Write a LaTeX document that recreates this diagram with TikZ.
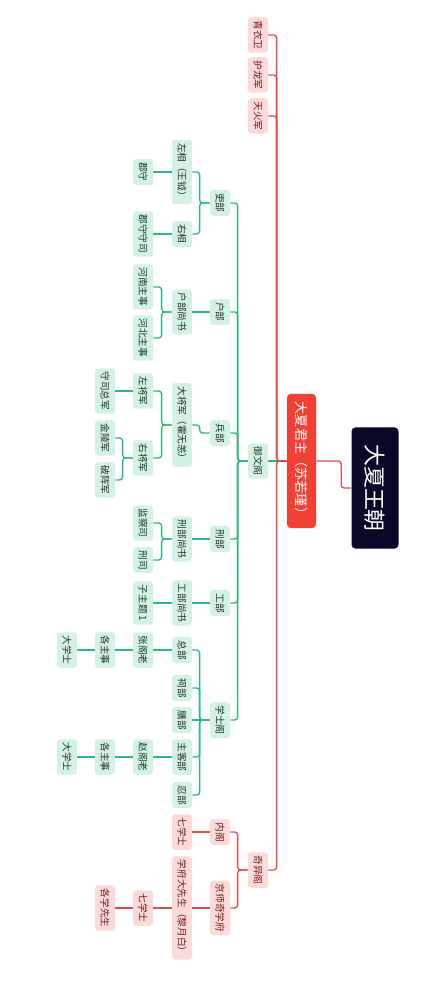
\documentclass[tikz,border=0pt]{standalone}
\usepackage{fontspec}
\setmainfont{Noto Sans CJK SC}
\definecolor{mintfill}{RGB}{212,242,227}
\definecolor{mintline}{RGB}{43,185,125}
\definecolor{minttext}{RGB}{30,55,45}
\definecolor{pinkfill}{RGB}{252,218,218}
\definecolor{pinkline}{RGB}{222,78,74}
\definecolor{pinktext}{RGB}{110,30,30}
\definecolor{kingred}{RGB}{242,64,52}
\definecolor{rootnavy}{RGB}{8,8,40}

\begin{document}
\begin{tikzpicture}[x=0.02cm,y=-0.02cm,
  topic/.style={rotate=-90,rounded corners=0.06cm,minimum height=0.4cm,
    inner xsep=1.85pt,inner ysep=0pt,font=\fontsize{5.5}{6}\selectfont},
  gnode/.style={topic,fill=mintfill,text=minttext},
  rnode/.style={topic,fill=pinkfill,text=pinktext},
  glink/.style={draw=mintline,line width=0.75pt,rounded corners=0.06cm},
  rlink/.style={draw=pinkline,line width=0.75pt,rounded corners=0.06cm},
]
\useasboundingbox (0,0) rectangle (442,999);
\fill[white] (0,0) rectangle (442,999);

% centre and sovereign
\node[rotate=-90,fill=rootnavy,text=white,rounded corners=0.08cm,minimum height=0.94cm,
  inner xsep=9.5pt,inner ysep=0pt,font=\fontsize{12.5}{14}\selectfont] (root) at (375,488) {大夏王朝};
\node[rotate=-90,fill=kingred,text=white,rounded corners=0.08cm,minimum height=0.58cm,
  inner xsep=4.5pt,inner ysep=0pt,font=\fontsize{7.5}{9}\selectfont] (jun) at (301.5,461) {大夏君主（苏若瑾）};

% guards
\node[rnode] (qyw) at (258,35) {青衣卫};
\node[rnode] (hlj) at (258,75) {护龙军};
\node[rnode] (thj) at (258,116) {天火军};

% 御文阁
\node[gnode] (ywg) at (258,461) {御文阁};
\node[gnode] (lib) at (220,203) {吏部};
\node[gnode] (hub) at (220,312) {户部};
\node[gnode] (bing) at (220,433) {兵部};
\node[gnode] (xing) at (220,539) {刑部};
\node[gnode] (gong) at (220,603) {工部};
\node[gnode] (xsg) at (220,720) {学士阁};

\node[gnode] (zx) at (182,172) {左相（王钺）};
\node[gnode] (yx) at (182,234) {右相};
\node[gnode] (js1) at (143,172) {郡守};
\node[gnode] (js2) at (143,234) {郡守守司};

\node[gnode] (hbss) at (182,312) {户部尚书};
\node[gnode] (hn) at (143,287) {河南主事};
\node[gnode] (hb) at (143,338) {河北主事};

\node[gnode] (djj) at (182,425) {大将军（霍无恙）};
\node[gnode] (zjj) at (143,391) {左将军};
\node[gnode] (yjj) at (143,458) {右将军};
\node[gnode] (sszj) at (105,391) {守司总军};
\node[gnode] (jlj) at (105,438) {金陵军};
\node[gnode] (pzj) at (105,480) {破阵军};

\node[gnode] (xbss) at (182,539) {刑部尚书};
\node[gnode] (jcs) at (143,523) {监察司};
\node[gnode] (xs) at (143,560) {刑司};

\node[gnode] (gbss) at (182,603) {工部尚书};
\node[gnode] (zzt) at (143,603) {子主题 1};

\node[gnode] (zb) at (182,650) {总部};
\node[gnode] (cb) at (182,688) {祠部};
\node[gnode] (sb) at (182,720) {膳部};
\node[gnode] (zkb) at (182,757) {主客部};
\node[gnode] (rb) at (182,795) {忍部};
\node[gnode] (zgl) at (143,650) {张阁老};
\node[gnode] (gzs1) at (105,650) {各主事};
\node[gnode] (dxs1) at (67,650) {大学士};
\node[gnode] (zhgl) at (143,757) {赵阁老};
\node[gnode] (gzs2) at (105,757) {各主事};
\node[gnode] (dxs2) at (67,757) {大学士};

% 奇异阁
\node[rnode] (qyg) at (258,870) {奇异阁};
\node[rnode] (ng) at (220,832) {内阁};
\node[rnode] (jsxf) at (220,908) {京师奇学府};
\node[rnode] (qxs1) at (182,832) {七学士};
\node[rnode] (xfdxs) at (182,908) {学府大先生（黎月白）};
\node[rnode] (qxs2) at (143,908) {七学士};
\node[rnode] (gxxs) at (105,908) {各学先生};

% connectors: elbows
\foreach \p/\c in {ywg/lib,ywg/hub,ywg/bing,ywg/xing,ywg/gong,ywg/xsg,
  lib/zx,lib/yx,hbss/hn,hbss/hb,
  bing/djj,djj/zjj,djj/yjj,yjj/jlj,yjj/pzj,
  xbss/jcs,xbss/xs,
  xsg/zb,xsg/cb,xsg/zkb,xsg/rb}
  \draw[glink] (\p.south) -- ++(-10,0) |- (\c.north);
% connectors: straight
\foreach \p/\c in {jun/ywg,zx/js1,yx/js2,hub/hbss,zjj/sszj,xing/xbss,gong/gbss,gbss/zzt,
  xsg/sb,zb/zgl,zgl/gzs1,gzs1/dxs1,zkb/zhgl,zhgl/gzs2,gzs2/dxs2}
  \draw[glink] (\p.south) -- (\c.north);
\foreach \p/\c in {root/jun,jun/qyw,jun/hlj,jun/thj,jun/qyg,qyg/ng,qyg/jsxf}
  \draw[rlink] (\p.south) -- ++(-10,0) |- (\c.north);
\foreach \p/\c in {ng/qxs1,jsxf/xfdxs,xfdxs/qxs2,qxs2/gxxs}
  \draw[rlink] (\p.south) -- (\c.north);
\end{tikzpicture}
\end{document}
